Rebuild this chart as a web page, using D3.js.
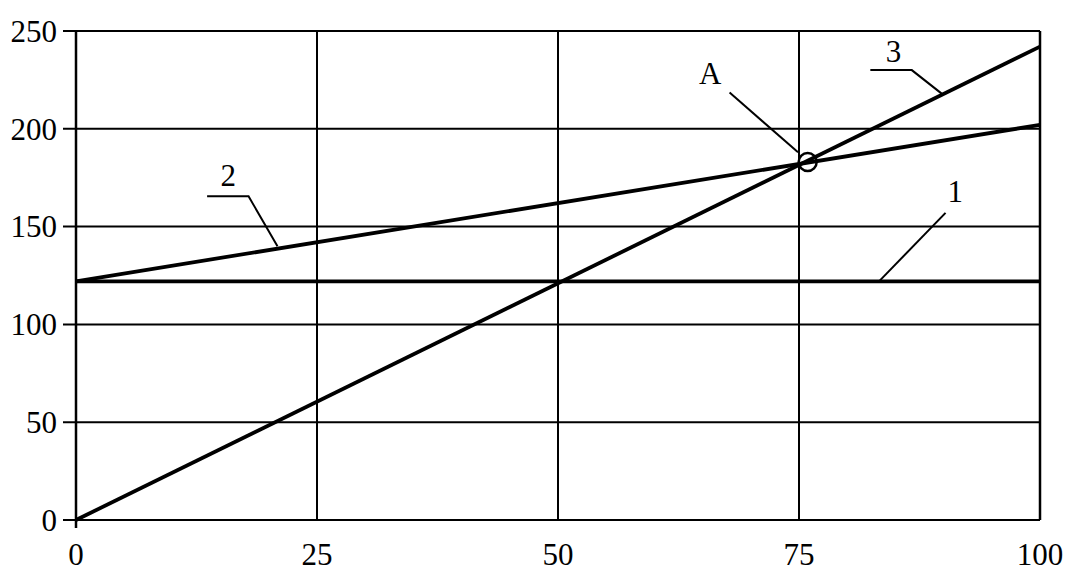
<!DOCTYPE html>
<html><head><meta charset="utf-8">
<script src="https://cdn.jsdelivr.net/npm/d3@7"></script>
<style>body{margin:0;background:#fff}</style>
</head><body>
<svg id="c" width="1083" height="571"></svg>
<script>
const xTicks = [0, 25, 50, 75, 100];
const yTicks = [0, 50, 100, 150, 200, 250];
const xs = [0, 100];
const line1 = [122, 122];
const line2 = [122, 202];
const line3 = [0, 242];
const pointA = [75.9, 183];
// annotation: label, label position, leader polyline (data coords)
const labels = [
  {text: "1", at: [91.2, 162.5], path: [[90.2, 157], [83.3, 122]]},
  {text: "2", at: [15.8, 171], path: [[13.6, 165.5], [17.9, 165.5], [20.9, 140]]},
  {text: "3", at: [84.8, 234], path: [[82.4, 230], [86.7, 230], [89.8, 218]]},
  {text: "A", at: [65.8, 223], path: [[67.8, 218.5], [74.9, 188]]}
];

const svg = d3.select("#c");
const m = {l: 76, r: 1040, t: 31, b: 520};
const x = d3.scaleLinear().domain([0, 100]).range([m.l, m.r]);
const y = d3.scaleLinear().domain([0, 250]).range([m.b, m.t]);
const font = "'Liberation Serif','Times New Roman',serif";

// horizontal grid + left ticks
svg.append("g").selectAll("line").data(yTicks).join("line")
  .attr("x1", m.l - 13).attr("x2", m.r)
  .attr("y1", d => y(d)).attr("y2", d => y(d))
  .attr("stroke", "#000").attr("stroke-width", 2);
// vertical grid + bottom ticks
svg.append("g").selectAll("line").data(xTicks).join("line")
  .attr("x1", d => x(d)).attr("x2", d => x(d))
  .attr("y1", m.t).attr("y2", d => d === 0 ? m.b + 8 : m.b)
  .attr("stroke", "#000").attr("stroke-width", d => (d === 0 || d === 100) ? 2.5 : 2);

// tick labels
svg.append("g").selectAll("text").data(yTicks).join("text")
  .attr("x", 57).attr("y", d => y(d)).attr("dy", "0.35em")
  .attr("text-anchor", "end").attr("font-family", font).attr("font-size", 31)
  .text(d => d);
svg.append("g").selectAll("text").data(xTicks).join("text")
  .attr("x", d => x(d)).attr("y", 565)
  .attr("text-anchor", "middle").attr("font-family", font).attr("font-size", 31)
  .text(d => d);

// data lines
const lg = d3.line().x(d => x(d[0])).y(d => y(d[1]));
[line1, line2, line3].forEach(s => {
  svg.append("path").attr("d", lg(xs.map((v, i) => [v, s[i]])))
    .attr("fill", "none").attr("stroke", "#000").attr("stroke-width", 3.8);
});

// point A
svg.append("circle").attr("cx", x(pointA[0])).attr("cy", y(pointA[1])).attr("r", 9)
  .attr("fill", "none").attr("stroke", "#000").attr("stroke-width", 2.5);

// annotations
labels.forEach(a => {
  svg.append("path").attr("d", lg(a.path)).attr("fill", "none")
    .attr("stroke", "#000").attr("stroke-width", 2);
  svg.append("text").attr("x", x(a.at[0])).attr("y", y(a.at[1]))
    .attr("text-anchor", "middle").attr("font-family", font).attr("font-size", 31)
    .text(a.text);
});
</script>
</body></html>
